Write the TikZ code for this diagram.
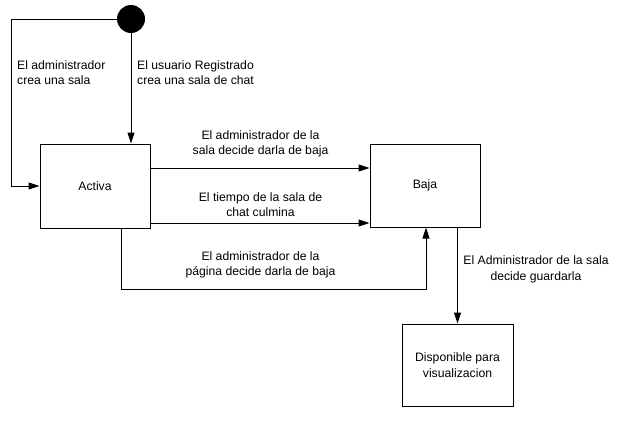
\documentclass[tikz,border=0pt]{standalone}
\usepackage{fontspec}
\setmainfont{Liberation Sans}
\usetikzlibrary{arrows.meta}
\tikzset{estado/.style={draw,line width=1pt,inner sep=0pt,align=center,font=\fontsize{12.2}{15.5}\selectfont}}
\tikzset{etiqueta/.style={inner sep=0pt,align=center,font=\fontsize{12.2}{15.5}\selectfont}}
\tikzset{flecha/.style={line width=1pt,-{Triangle[length=11pt,width=7pt]}}}

\begin{document}
\begin{tikzpicture}[x=1pt,y=-1pt] %坐标按像素, y向下
            \useasboundingbox (0,0) rectangle (617,423);
            \node[circle,fill=black,minimum size=28pt,inner sep=0pt] (inicio) at (131,19) {};
            \node[estado,minimum width=110pt,minimum height=84pt] (activa) at (95,186) {Activa};
            \node[estado,minimum width=110pt,minimum height=83pt] (baja) at (425,185.5) {Baja};
            \node[estado,minimum width=111pt,minimum height=82pt] (disp) at (457.5,365) {Disponible para\\visualizacion};
            \node[etiqueta,anchor=west,align=left] (lbla) at (17,72.5) {El administrador\\crea una sala};
            \node[etiqueta,anchor=west,align=left] (lblb) at (137,72.5) {El usuario Registrado\\crea una sala de chat};
            \node[etiqueta] (lblc) at (260.5,144) {El administrador de la\\sala decide darla de baja};
            \node[etiqueta] (lbld) at (260.5,204.5) {El tiempo de la sala de\\chat culmina};
            \node[etiqueta] (lble) at (260.5,265) {El administrador de la\\página decide darla de baja};
            \node[etiqueta] (lblf) at (536,269.5) {El Administrador de la sala\\decide guardarla};
            \draw[flecha] (inicio.west) -| ([xshift=-28pt]activa.west) -- (activa.west);
            \draw[flecha] (inicio.south) -- (inicio.south |- activa.north);
            \draw[flecha] ([yshift=18pt]activa.east) -- ([yshift=18pt]activa.east -| baja.west);
            \draw[flecha] ([yshift=-37pt]activa.east) -- ([yshift=-37pt]activa.east -| baja.west);
            \draw[flecha] ([xshift=26pt]activa.south) -- ++(0,61) -| ([xshift=1pt]baja.south);
            \draw[flecha] (disp.north |- baja.south) -- (disp.north);
        \end{tikzpicture}
\end{document}
